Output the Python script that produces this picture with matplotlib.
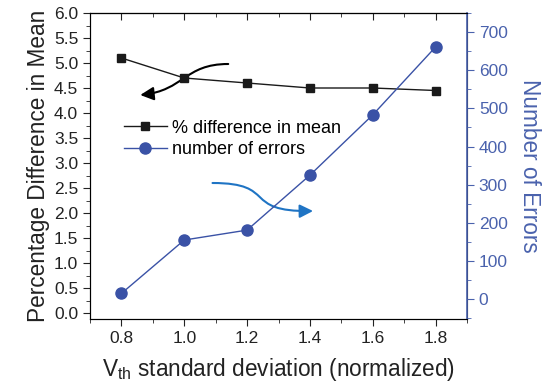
import matplotlib
matplotlib.use("Agg")
import matplotlib.pyplot as plt
from matplotlib.path import Path
from matplotlib.patches import FancyArrowPatch
from matplotlib.ticker import MultipleLocator, NullFormatter

plt.rcParams['font.family'] = ['Liberation Sans', 'DejaVu Sans']

# data
vth_std = [0.8, 1.0, 1.2, 1.4, 1.6, 1.8]
pct_diff_mean = [5.1, 4.7, 4.6, 4.5, 4.5, 4.45]
num_errors = [15, 155, 181, 325, 483, 661]

blue = '#3a52a6'
axis_blue = '#4a62ad'
dark = '#222222'

fig = plt.figure(figsize=(5.5, 3.89), dpi=100)
ax = fig.add_axes([90 / 550, 1 - 319 / 389, 377 / 550, 306 / 389])
ax2 = ax.twinx()

l1, = ax.plot(vth_std, pct_diff_mean, color='#1a1a1a', marker='s', markersize=6,
              linewidth=1, label='% difference in mean')
l2, = ax2.plot(vth_std, num_errors, color=blue, marker='o', markersize=8,
               linewidth=1, label='number of errors')

ax.set_xlim(0.7, 1.9)
ax.set_ylim(-0.12, 6.0)
ax2.set_ylim(-52, 750)

ax.xaxis.set_major_locator(MultipleLocator(0.2))
ax.xaxis.set_minor_locator(MultipleLocator(0.1))
ax.yaxis.set_major_locator(MultipleLocator(0.5))
ax.yaxis.set_minor_locator(MultipleLocator(0.25))
ax2.yaxis.set_major_locator(MultipleLocator(100))
ax2.yaxis.set_minor_locator(MultipleLocator(50))
ax.set_xticks([0.8, 1.0, 1.2, 1.4, 1.6, 1.8])
ax.set_xticklabels(['0.8', '1.0', '1.2', '1.4', '1.6', '1.8'])

ax.tick_params(axis='x', which='major', direction='out', length=5, labelsize=12.5,
               color=dark, labelcolor=dark)
ax.tick_params(axis='x', which='minor', direction='out', length=3, color=dark)
ax.tick_params(axis='y', which='major', direction='out', length=5, labelsize=12.5,
               color=dark, labelcolor=dark)
ax.tick_params(axis='y', which='minor', direction='out', length=3, color=dark)
ax2.tick_params(axis='y', which='major', direction='out', length=5, labelsize=12.5,
                color=axis_blue, labelcolor=axis_blue)
ax2.tick_params(axis='y', which='minor', direction='out', length=3, color=axis_blue)

# top spine ticks point inward
top = ax.secondary_xaxis('top')
top.xaxis.set_major_locator(MultipleLocator(0.2))
top.xaxis.set_minor_locator(MultipleLocator(0.1))
top.xaxis.set_major_formatter(NullFormatter())
top.tick_params(which='major', direction='in', length=5, color=dark)
top.tick_params(which='minor', direction='in', length=3, color=dark)
top.spines['top'].set_color(dark)

for s in ['top', 'bottom', 'left']:
    ax.spines[s].set_color(dark)
ax2.spines['right'].set_color(axis_blue)
ax2.spines['right'].set_linewidth(1.2)

ax.set_xlabel(r'V$_{\mathregular{th}}$ standard deviation (normalized)', fontsize=16.3,
              color=dark, labelpad=7)
ax.set_ylabel('Percentage Difference in Mean', fontsize=16.3, color=dark, labelpad=3)
ax2.set_ylabel('Number of Errors', fontsize=16.3, color=axis_blue, rotation=270,
               labelpad=24)

ax.legend([l1, l2], [l1.get_label(), l2.get_label()], loc='upper left',
          bbox_to_anchor=(0.07, 0.675), frameon=False, fontsize=13,
          handlelength=2.4, borderaxespad=0, labelspacing=0.25, handletextpad=0.3)

# curved arrows pointing to the axis each series belongs to
black_path = Path([(1.14, 4.98), (1.0, 4.98), (1.0, 4.45), (0.86, 4.36)],
                  [Path.MOVETO, Path.CURVE4, Path.CURVE4, Path.CURVE4])
ax.add_patch(FancyArrowPatch(path=black_path, arrowstyle='-|>,head_length=8,head_width=4',
                             color='black', linewidth=1.5))
blue_path = Path([(1.09, 2.6), (1.3, 2.6), (1.18, 2.02), (1.41, 2.04)],
                 [Path.MOVETO, Path.CURVE4, Path.CURVE4, Path.CURVE4])
ax.add_patch(FancyArrowPatch(path=blue_path, arrowstyle='-|>,head_length=8,head_width=4',
                             color='#1f74c4', linewidth=1.5))

fig.savefig('out.png', dpi=100)
